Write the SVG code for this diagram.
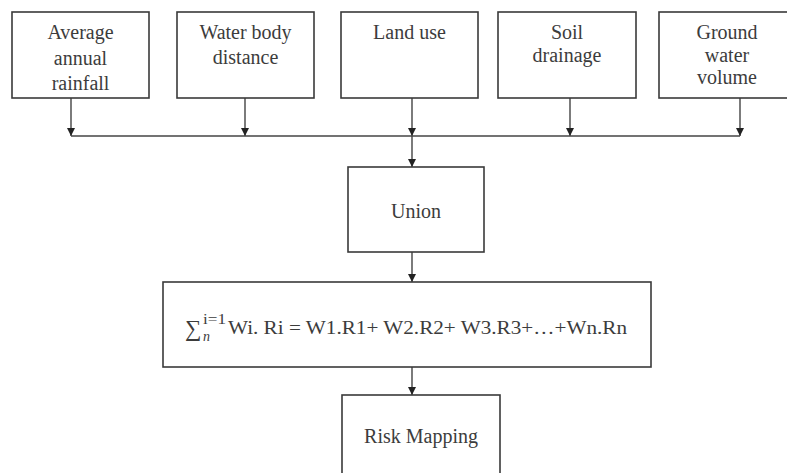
<svg xmlns="http://www.w3.org/2000/svg" width="787" height="473" viewBox="0 0 787 473">
<style>
.box{fill:#fff;stroke:#3a3a3a;stroke-width:1.6}
.ln{stroke:#444;stroke-width:1.4;fill:none}
text{font-family:'Liberation Serif','DejaVu Serif',serif;font-size:20px;fill:#3c3c3c;text-anchor:middle}
</style>
<defs>
<marker id="ah" markerWidth="10" markerHeight="10" refX="8" refY="4" orient="auto" markerUnits="userSpaceOnUse">
<path d="M0,0 L8,4 L0,8 Z" fill="#222"/>
</marker>
</defs>
<rect width="787" height="473" fill="#fff"/>
<g id="connectors">
<path class="ln" d="M71,98 V136" marker-end="url(#ah)"/>
<path class="ln" d="M245,98 V136" marker-end="url(#ah)"/>
<path class="ln" d="M412,98 V136" marker-end="url(#ah)"/>
<path class="ln" d="M570,98 V136" marker-end="url(#ah)"/>
<path class="ln" d="M740,98 V136" marker-end="url(#ah)"/>
<path class="ln" d="M71,136 H740"/>
<path class="ln" d="M412,136 V167" marker-end="url(#ah)"/>
<path class="ln" d="M412,252 V282" marker-end="url(#ah)"/>
<path class="ln" d="M412,367 V395" marker-end="url(#ah)"/>
</g>
<g id="rainfall">
<rect class="box" x="12" y="12" width="137" height="86"/>
<text x="80.5" y="39">Average</text>
<text x="80.5" y="65">annual</text>
<text x="80.5" y="90">rainfall</text>
</g>
<g id="waterbody">
<rect class="box" x="177" y="12" width="137" height="86"/>
<text x="245.5" y="39">Water body</text>
<text x="245.5" y="64">distance</text>
</g>
<g id="landuse">
<rect class="box" x="341" y="12" width="137" height="86"/>
<text x="409.5" y="39">Land use</text>
</g>
<g id="soil">
<rect class="box" x="498" y="12" width="138" height="86"/>
<text x="567" y="39">Soil</text>
<text x="567" y="62">drainage</text>
</g>
<g id="groundwater">
<rect class="box" x="659" y="12" width="136" height="86"/>
<text x="727" y="39">Ground</text>
<text x="727" y="62">water</text>
<text x="727" y="84">volume</text>
</g>
<g id="union">
<rect class="box" x="348" y="167" width="136" height="85"/>
<text x="416" y="218">Union</text>
</g>
<g id="formula">
<rect class="box" x="163" y="282" width="488" height="85"/>
<text x="185" y="336" style="text-anchor:start;font-size:23px">∑</text>
<text x="203" y="324" style="text-anchor:start;font-size:14px" textLength="23" lengthAdjust="spacingAndGlyphs">i=1</text>
<text x="203" y="341" style="text-anchor:start;font-size:14px;font-style:italic">n</text>
<text x="228" y="334" style="text-anchor:start;font-size:18px" textLength="399" lengthAdjust="spacingAndGlyphs">Wi. Ri = W1.R1+ W2.R2+ W3.R3+…+Wn.Rn</text>
</g>
<g id="risk">
<rect class="box" x="342" y="395" width="158" height="90"/>
<text x="421" y="443">Risk Mapping</text>
</g>
</svg>
